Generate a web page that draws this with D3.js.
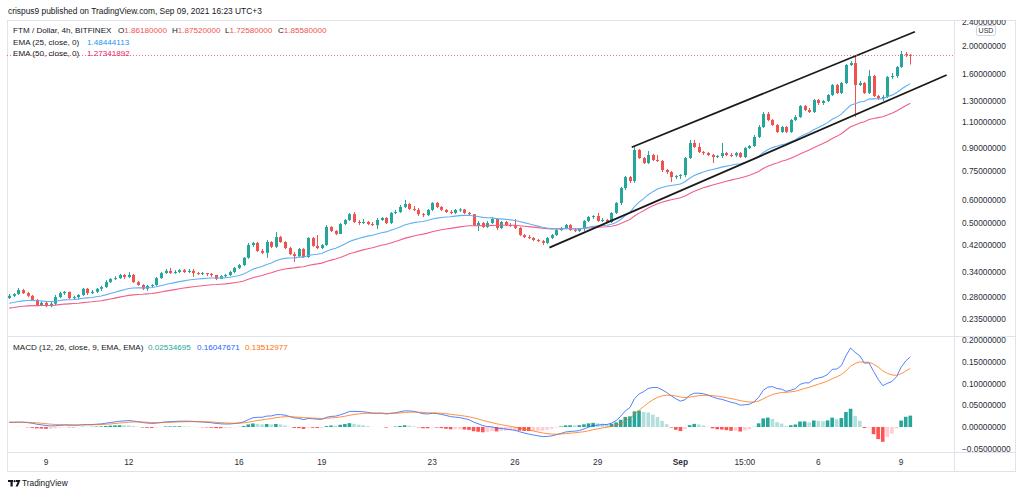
<!DOCTYPE html>
<html><head><meta charset="utf-8">
<script src="https://cdn.jsdelivr.net/npm/d3@7"></script>
<style>body{margin:0;background:#fff}svg{display:block;font-family:"Liberation Sans",Arial,sans-serif}</style>
</head><body>
<svg id="c" width="1024" height="496"></svg>
<script>
// ---- data (4h candles, FTM/USD, Bitfinex) ----
const firstOpen = 0.278;
const closes = [
0.283,0.287,0.296,0.289,0.283,0.274,0.263,0.268,0.261,0.266,
0.280,0.289,0.292,0.278,0.280,0.285,0.299,0.289,0.292,0.299,
0.303,0.315,0.323,0.325,0.333,0.328,0.333,0.315,0.308,0.299,
0.306,0.308,0.325,0.338,0.344,0.338,0.341,0.346,0.341,0.344,
0.338,0.336,0.338,0.336,0.333,0.323,0.330,0.333,0.341,0.352,
0.360,0.381,0.421,0.428,0.402,0.396,0.431,0.415,0.448,0.431,
0.411,0.392,0.386,0.408,0.383,0.445,0.418,0.411,0.421,0.485,
0.470,0.459,0.496,0.512,0.536,0.504,0.500,0.504,0.496,0.492,
0.512,0.520,0.500,0.541,0.545,0.567,0.580,0.558,0.554,0.536,
0.532,0.554,0.585,0.567,0.554,0.545,0.541,0.554,0.556,0.541,
0.536,0.492,0.500,0.485,0.500,0.516,0.481,0.504,0.492,0.488,
0.481,0.455,0.448,0.445,0.438,0.434,0.428,0.445,0.455,0.473,
0.481,0.492,0.473,0.470,0.477,0.508,0.524,0.528,0.508,0.512,
0.504,0.541,0.585,0.657,0.716,0.694,0.885,0.831,0.799,0.851,
0.818,0.812,0.757,0.745,0.716,0.722,0.728,0.831,0.935,0.906,
0.871,0.864,0.851,0.838,0.844,0.864,0.851,0.848,0.864,0.838,
0.899,0.913,0.980,1.059,1.173,1.119,1.076,1.019,1.059,1.019,
1.119,1.145,1.248,1.210,1.191,1.308,1.278,1.298,1.360,1.471,
1.382,1.494,1.720,1.747,1.471,1.494,1.382,1.578,1.350,1.329,
1.339,1.566,1.578,1.693,1.874,1.8618,1.8558];
const highs = [
0.287,0.289,0.301,0.299,0.292,0.285,0.276,0.272,0.270,0.270,
0.285,0.292,0.294,0.292,0.283,0.287,0.301,0.301,0.296,0.301,
0.306,0.320,0.325,0.330,0.336,0.336,0.341,0.336,0.318,0.310,
0.308,0.310,0.328,0.341,0.349,0.352,0.346,0.349,0.349,0.349,
0.349,0.341,0.341,0.338,0.338,0.333,0.333,0.336,0.344,0.355,
0.363,0.383,0.428,0.431,0.431,0.408,0.438,0.434,0.466,0.452,
0.434,0.415,0.399,0.411,0.411,0.448,0.448,0.455,0.424,0.492,
0.488,0.473,0.500,0.516,0.541,0.545,0.512,0.516,0.508,0.504,
0.520,0.524,0.524,0.545,0.554,0.576,0.599,0.585,0.571,0.562,
0.541,0.558,0.589,0.589,0.571,0.558,0.554,0.558,0.562,0.558,
0.545,0.536,0.508,0.504,0.508,0.524,0.520,0.508,0.508,0.500,
0.516,0.485,0.459,0.455,0.448,0.441,0.438,0.448,0.459,0.477,
0.485,0.496,0.496,0.481,0.481,0.512,0.528,0.532,0.541,0.520,
0.516,0.545,0.589,0.663,0.722,0.722,0.906,0.892,0.838,0.878,
0.858,0.851,0.818,0.763,0.751,0.728,0.733,0.838,0.957,0.957,
0.935,0.878,0.871,0.858,0.851,0.935,0.871,0.864,0.871,0.871,
0.906,0.920,0.995,1.076,1.191,1.191,1.127,1.084,1.068,1.068,
1.127,1.163,1.258,1.258,1.229,1.318,1.318,1.308,1.371,1.482,
1.482,1.506,1.733,1.775,1.845,1.518,1.506,1.654,1.591,1.360,
1.360,1.578,1.616,1.706,1.919,1.904,1.8752];
const lows = [
0.276,0.280,0.285,0.287,0.280,0.272,0.261,0.261,0.259,0.259,
0.263,0.278,0.285,0.276,0.274,0.276,0.283,0.285,0.287,0.289,
0.294,0.301,0.313,0.320,0.323,0.323,0.325,0.313,0.306,0.296,
0.294,0.301,0.306,0.323,0.336,0.336,0.336,0.338,0.338,0.338,
0.328,0.333,0.333,0.330,0.328,0.320,0.323,0.328,0.330,0.338,
0.349,0.357,0.378,0.415,0.399,0.392,0.381,0.411,0.411,0.428,
0.408,0.389,0.369,0.383,0.381,0.381,0.415,0.408,0.408,0.418,
0.466,0.455,0.459,0.492,0.508,0.500,0.492,0.496,0.492,0.488,
0.477,0.508,0.496,0.496,0.536,0.541,0.562,0.554,0.549,0.528,
0.524,0.528,0.549,0.562,0.549,0.541,0.536,0.536,0.545,0.536,
0.528,0.488,0.470,0.481,0.481,0.496,0.473,0.477,0.488,0.485,
0.477,0.452,0.445,0.441,0.434,0.431,0.421,0.424,0.441,0.452,
0.470,0.477,0.470,0.466,0.466,0.470,0.504,0.516,0.504,0.504,
0.500,0.500,0.536,0.576,0.647,0.684,0.684,0.825,0.793,0.793,
0.812,0.806,0.745,0.733,0.689,0.705,0.705,0.716,0.825,0.899,
0.864,0.851,0.844,0.799,0.831,0.831,0.844,0.838,0.838,0.831,
0.831,0.892,0.906,0.972,1.051,1.110,1.068,1.011,1.011,1.011,
1.011,1.110,1.136,1.200,1.182,1.182,1.258,1.258,1.288,1.350,
1.371,1.371,1.482,1.706,1.145,1.459,1.371,1.371,1.339,1.308,
1.298,1.329,1.542,1.554,1.680,1.831,1.7258];
// indicator starting values (left edge)
const ema25Start = 0.267, ema50Start = 0.257;
const macdFastStart = 0.279, macdSlowStart = 0.268, macdSignalStart = 0.011;
// axes
const timeTickIdx = [8,26,50,68,92,110,128,146,160,176,194];
const timeTickLabels = ["9","12","16","19","23","26","29","Sep","15:00","6","9"];
const priceTicks = [2.4,2.0,1.6,1.3,1.1,0.9,0.75,0.6,0.5,0.42,0.34,0.28,0.235,0.2];
const macdTicks = [0.2,0.15,0.1,0.05,0,-0.05];
// drawn channel lines [candle index, price]
const upperChannel = [[135.4,0.904],[197.0,2.231]];
const lowerChannel = [[117.5,0.4124],[203.9,1.590]];
// legend texts
const ohlcLegend = [["O","1.86180000"],["H","1.87520000"],["L","1.72580000"],["C","1.85580000"]];
const emaLegend = [["EMA (25, close, 0)","1.48444113","#2196f3"],["EMA (50, close, 0)","1.27341892","#e91e63"]];
const macdLegend = [["0.02534695","#26a69a"],["0.16047671","#2962ff"],["0.13512977","#ff6d00"]];

// ---- layout ----
const L=7, R=954, RA=1016, T=20, MB=336, MACDB=452, TB=472;
const n = closes.length;
const opens = closes.map((c,i)=> i===0 ? firstOpen : closes[i-1]);
const x = d3.scaleLinear().domain([-0.48, n+8.5]).range([L,R]);
const y = d3.scaleLog().domain([0.2067, 2.4451]).range([MB,T]);
const ym = d3.scaleLinear().domain([-0.0577, 0.21]).range([MACDB,MB]);

function ema(arr, period, start){
  const k = 2/(period+1); let e = start;
  return arr.map((v,i)=> i===0 ? e : (e = v*k + e*(1-k)));
}
const ema25 = ema(closes,25,ema25Start);
const ema50 = ema(closes,50,ema50Start);
const fast = ema(closes,12,macdFastStart), slow = ema(closes,26,macdSlowStart);
const macd = fast.map((f,i)=> i===0 ? macdFastStart-macdSlowStart : f-slow[i]);
const signal = ema(macd,9,macdSignalStart);
const hist = macd.map((m,i)=> m-signal[i]);

const UP="#26a69a", DN="#ef5350", GRID="#e0e3eb", TXT="#131722";
const svg = d3.select("#c");
const defs = svg.append("defs");
function clip(id,x0,y0,w,h){defs.append("clipPath").attr("id",id).append("rect").attr("x",x0).attr("y",y0).attr("width",w).attr("height",h);}
clip("cm",L,T,R-L,MB-T); clip("cd",L,MB,R-L,MACDB-MB);
clip("am",R,T,RA-R,MB-T); clip("ad",R,MB,RA-R,MACDB-MB);

// header
svg.append("text").attr("x",8).attr("y",11).attr("dy","0.35em").attr("font-size",8.4).attr("fill",TXT)
  .text("crispus9 published on TradingView.com, Sep 09, 2021 16:23 UTC+3");

// frame
const fr = svg.append("g").attr("stroke",GRID).attr("fill","none").attr("shape-rendering","crispEdges");
fr.append("rect").attr("x",L+0.5).attr("y",T+0.5).attr("width",RA-L-1).attr("height",TB-T-1);
fr.append("line").attr("x1",R+0.5).attr("x2",R+0.5).attr("y1",T).attr("y2",TB);
fr.append("line").attr("x1",L).attr("x2",RA).attr("y1",MB+0.5).attr("y2",MB+0.5);
fr.append("line").attr("x1",L).attr("x2",RA).attr("y1",MACDB+0.5).attr("y2",MACDB+0.5);

// main pane
const gm = svg.append("g").attr("clip-path","url(#cm)");
const idx = d3.range(n);
gm.selectAll("rect.w").data(idx).join("rect").attr("class","w")
  .attr("x",i=>Math.round(x(i))).attr("width",1)
  .attr("y",i=>y(highs[i])).attr("height",i=>Math.max(1,y(lows[i])-y(highs[i])))
  .attr("fill",i=>closes[i]>=opens[i]?UP:DN);
gm.selectAll("rect.b").data(idx).join("rect").attr("class","b")
  .attr("x",i=>Math.round(x(i))-1).attr("width",3)
  .attr("y",i=>y(Math.max(opens[i],closes[i])))
  .attr("height",i=>Math.max(1,Math.abs(y(opens[i])-y(closes[i]))))
  .attr("fill",i=>closes[i]>=opens[i]?UP:DN);
const lineP = d3.line().x((d,i)=>x(i)).y(d=>y(d));
gm.append("path").datum(ema50).attr("d",lineP).attr("fill","none").attr("stroke","#f0608a").attr("stroke-width",1.1);
gm.append("path").datum(ema25).attr("d",lineP).attr("fill","none").attr("stroke","#5fb0f5").attr("stroke-width",1.1);
const chLine = d3.line().x(d=>x(d[0])).y(d=>y(d[1]));
[upperChannel,lowerChannel].forEach(c=> gm.append("path").datum(c).attr("d",chLine)
  .attr("stroke","#1a1a1a").attr("stroke-width",1.8).attr("fill","none"));
gm.append("line").attr("x1",L).attr("x2",R).attr("y1",Math.round(y(closes[n-1]))+0.5).attr("y2",Math.round(y(closes[n-1]))+0.5)
  .attr("stroke",DN).attr("stroke-dasharray","1,2").attr("stroke-opacity",0.8);

// legend (main)
const lg = svg.append("g").attr("font-size",8.1).attr("fill",TXT);
const t1 = lg.append("text").attr("x",13).attr("y",30).attr("dy","0.35em");
t1.append("tspan").text("FTM / Dollar, 4h, BITFINEX");
const ohlcX=[118,172,225,278];
ohlcLegend.forEach((d,k)=>{ t1.append("tspan").attr("x",ohlcX[k]).text(d[0]); t1.append("tspan").attr("fill",DN).text(d[1]); });
emaLegend.forEach((d,k)=>{
  const t = lg.append("text").attr("x",13).attr("y",42+k*11.5).attr("dy","0.35em");
  t.append("tspan").text(d[0]); t.append("tspan").attr("x",87).attr("fill",d[2]).text(d[1]);
});

// price axis
const ga = svg.append("g").attr("clip-path","url(#am)").attr("font-size",8.3).attr("fill","#2a2e39");
ga.selectAll("text").data(priceTicks).join("text").attr("x",962).attr("y",d=>y(d)).attr("dy","0.35em")
  .text(d=>d3.format(".8f")(d));
svg.append("rect").attr("x",976.5).attr("y",25.5).attr("width",19).attr("height",10).attr("rx",2)
  .attr("fill","#fff").attr("stroke","#d1d4dc");
svg.append("text").attr("x",986).attr("y",30.5).attr("dy","0.35em").attr("text-anchor","middle")
  .attr("font-size",7).attr("fill","#2a2e39").text("USD");

// MACD pane
const gd = svg.append("g").attr("clip-path","url(#cd)");
gd.selectAll("rect").data(idx).join("rect")
  .attr("x",i=>x(i)-1.8).attr("width",3.6)
  .attr("y",i=>Math.min(ym(0),ym(hist[i]))).attr("height",i=>Math.abs(ym(hist[i])-ym(0)))
  .attr("fill",i=>{const h=hist[i], p=i?hist[i-1]:h;
     return h>=0 ? (h>=p?"#26a69a":"#b2dfdb") : (h<p?"#ff5252":"#ffcdd2");});
const lineM = d3.line().x((d,i)=>x(i)).y(d=>ym(d));
gd.append("path").datum(macd).attr("d",lineM).attr("fill","none").attr("stroke","#2962ff").attr("stroke-width",1).attr("stroke-opacity",0.8);
gd.append("path").datum(signal).attr("d",lineM).attr("fill","none").attr("stroke","#ff6d00").attr("stroke-width",1).attr("stroke-opacity",0.75);

const tm = svg.append("text").attr("x",13).attr("y",347.5).attr("dy","0.35em").attr("font-size",8.1).attr("fill",TXT);
tm.append("tspan").text("MACD (12, 26, close, 9, EMA, EMA)");
const mX=[148,197,245];
macdLegend.forEach((d,k)=> tm.append("tspan").attr("x",mX[k]).attr("fill",d[1]).text(d[0]));

const gda = svg.append("g").attr("clip-path","url(#ad)").attr("font-size",8.3).attr("fill","#2a2e39");
gda.selectAll("text").data(macdTicks).join("text").attr("x",962).attr("y",d=>ym(d)).attr("dy","0.35em")
  .text(d=> (d<0?"\u2212":"")+d3.format(".8f")(Math.abs(d)));

// time axis
svg.append("g").attr("font-size",8.3).attr("fill","#2a2e39").selectAll("text").data(timeTickIdx).join("text")
  .attr("x",d=>x(d)).attr("y",462).attr("dy","0.35em").attr("text-anchor","middle")
  .attr("font-weight",(d,k)=>timeTickLabels[k]==="Sep"?"bold":null)
  .text((d,k)=>timeTickLabels[k]);

// footer logo
const lo = svg.append("g").attr("fill","#131722");
lo.append("rect").attr("x",8).attr("y",480).attr("width",5).attr("height",2);
lo.append("rect").attr("x",10.5).attr("y",480).attr("width",2.2).attr("height",6.5);
lo.append("circle").attr("cx",14.6).attr("cy",481.2).attr("r",1.1);
lo.append("path").attr("d","M16,480 L20.5,480 L17.8,486.5 L15.6,486.5 L17.6,482 L16,482 Z");
svg.append("text").attr("x",22).attr("y",483.5).attr("dy","0.35em").attr("font-size",8.3).attr("fill","#131722").text("TradingView");
</script>
</body></html>
